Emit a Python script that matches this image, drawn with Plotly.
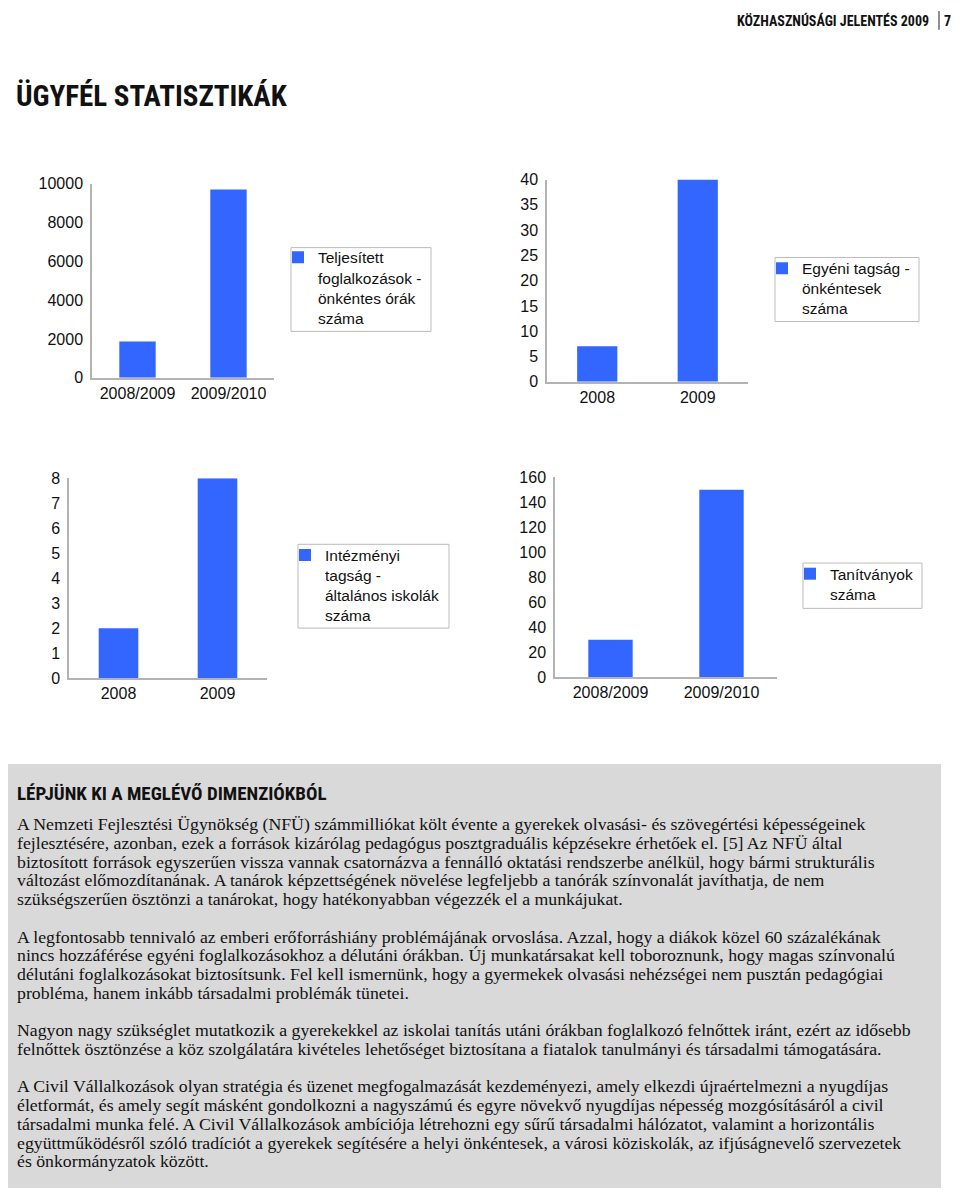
import plotly.graph_objects as go

W, H = 944, 1184
OFF = 8  # default page body margin
BLUE = "#3366ff"
AX = "#b3b3b3"

# ---- data ----
c1_cats = ["2008/2009", "2009/2010"]
c1_vals = [1870, 9700]
c1_name = "Teljesített<br>foglalkozások -<br>önkéntes órák<br>száma"

c2_cats = ["2008", "2009"]
c2_vals = [7, 40]
c2_name = "Egyéni tagság -<br>önkéntesek<br>száma"

c3_cats = ["2008", "2009"]
c3_vals = [2, 8]
c3_name = "Intézményi<br>tagság -<br>általános iskolák<br>száma"

c4_cats = ["2008/2009", "2009/2010"]
c4_vals = [30, 150]
c4_name = "Tanítványok<br>száma"

header = "KÖZHASZNÚSÁGI JELENTÉS 2009"
page_no = "7"
title = "ÜGYFÉL STATISZTIKÁK"
box_heading = "LÉPJÜNK KI A MEGLÉVŐ DIMENZIÓKBÓL"
paragraphs = [
    [
        "A Nemzeti Fejlesztési Ügynökség (NFÜ) számmilliókat költ évente a gyerekek olvasási- és szövegértési képességeinek",
        "fejlesztésére, azonban, ezek a források kizárólag pedagógus posztgraduális képzésekre érhetőek el. [5] Az NFÜ által",
        "biztosított források egyszerűen vissza vannak csatornázva a fennálló oktatási rendszerbe anélkül, hogy bármi strukturális",
        "változást előmozdítanának. A tanárok képzettségének növelése legfeljebb a tanórák színvonalát javíthatja, de nem",
        "szükségszerűen ösztönzi a tanárokat, hogy hatékonyabban végezzék el a munkájukat.",
    ],
    [
        "A legfontosabb tennivaló az emberi erőforráshiány problémájának orvoslása. Azzal, hogy a diákok közel 60 százalékának",
        "nincs hozzáférése egyéni foglalkozásokhoz a délutáni órákban. Új munkatársakat kell toboroznunk, hogy magas színvonalú",
        "délutáni foglalkozásokat biztosítsunk. Fel kell ismernünk, hogy a gyermekek olvasási nehézségei nem pusztán pedagógiai",
        "probléma, hanem inkább társadalmi problémák tünetei.",
    ],
    [
        "Nagyon nagy szükséglet mutatkozik a gyerekekkel az iskolai tanítás utáni órákban foglalkozó felnőttek iránt, ezért az idősebb",
        "felnőttek ösztönzése a köz szolgálatára kivételes lehetőséget biztosítana a fiatalok tanulmányi és társadalmi támogatására.",
    ],
    [
        "A Civil Vállalkozások olyan stratégia és üzenet megfogalmazását kezdeményezi, amely elkezdi újraértelmezni a nyugdíjas",
        "életformát, és amely segít másként gondolkozni a nagyszámú és egyre növekvő nyugdíjas népesség mozgósításáról a civil",
        "társadalmi munka felé. A Civil Vállalkozások ambíciója létrehozni egy sűrű társadalmi hálózatot, valamint a horizontális",
        "együttműködésről szóló tradíciót a gyerekek segítésére a helyi önkéntesek, a városi köziskolák, az ifjúságnevelő szervezetek",
        "és önkormányzatok között.",
    ],
]


def px(x):
    return (x - OFF) / W


def py(y):
    return 1 - (y - OFF) / H


charts = [
    # cats, vals, name, xdom(px), ydom(px), range, dtick, legend box (x0,y0,x1,y1), first text line y
    (c1_cats, c1_vals, c1_name, (92, 274), (178, 375), 10000, 2000, (291, 243, 431, 328), 257),
    (c2_cats, c2_vals, c2_name, (547, 748), (174, 379), 40, 5, (775, 253, 919, 318), 268),
    (c3_cats, c3_vals, c3_name, (69, 267), (477, 680), 8, 1, (298, 544, 449, 629), 559),
    (c4_cats, c4_vals, c4_name, (555, 777), (476, 679), 160, 20, (803, 563, 922, 609), 578),
]

NARROW = "Liberation Sans Narrow, Roboto Condensed, Roboto, sans-serif"
SANS = "Liberation Sans, Arial, sans-serif"
SERIF = "Liberation Serif, Times New Roman, serif"

fig = go.Figure()
layout = dict(
    width=W, height=H,
    margin=dict(l=0, r=0, t=0, b=0),
    paper_bgcolor="white", plot_bgcolor="white",
    bargap=0.6,
    font=dict(family=SANS, size=16, color="#111111"),
)
shapes = [
    dict(type="rect", xref="paper", yref="paper", x0=px(8), x1=px(941), y0=py(1197), y1=py(767),
         fillcolor="#d9d9d9", line=dict(width=0), layer="below"),
    dict(type="line", xref="paper", yref="paper", x0=px(939), x1=px(939), y0=py(3), y1=py(22),
         line=dict(color="#222222", width=1)),
]

for i, (cats, vals, name, xd, yd, top, dt, box, ty) in enumerate(charts):
    n = i + 1
    sfx = "" if n == 1 else str(n)
    fig.add_trace(go.Bar(
        x=cats, y=vals, name=name, marker=dict(color=BLUE, line=dict(width=0)),
        xaxis="x" + sfx, yaxis="y" + sfx, legend="legend" + sfx, showlegend=True,
    ))
    layout["xaxis" + sfx] = dict(
        domain=[px(xd[0]), px(xd[1])], anchor="y" + sfx, type="category",
        range=[-0.5, 1.5], showline=True, linecolor=AX, linewidth=1.5,
        ticks="", showgrid=False, zeroline=False,
        tickfont=dict(size=16, color="#111111"),
    )
    layout["yaxis" + sfx] = dict(
        domain=[py(yd[1]), py(yd[0])], anchor="x" + sfx,
        range=[0, top], dtick=dt, tick0=0, tickformat="d",
        showline=True, linecolor=AX, linewidth=1.5,
        ticks="", showgrid=False, zeroline=False, ticklabelstandoff=4,
        tickfont=dict(size=16, color="#111111"),
    )
    # legend frame drawn as a rectangle; legend itself without border
    shapes.append(dict(type="rect", xref="paper", yref="paper",
                       x0=px(box[0]), x1=px(box[2]), y0=py(box[3]), y1=py(box[1]),
                       fillcolor="white", line=dict(color="#bbbbbb", width=1), layer="below"))
    layout["legend" + sfx] = dict(
        x=px(box[0] - 13), y=py(ty - 21), xanchor="left", yanchor="top",
        xref="paper", yref="paper",
        borderwidth=0, bgcolor="rgba(0,0,0,0)",
        font=dict(size=15.5, color="#111111"), valign="top",
        itemwidth=30, tracegroupgap=0,
    )

fig.update_layout(**layout)
fig.update_layout(shapes=shapes)

ann = []
ann.append(dict(text="<b>" + header + "</b>", x=px(931), y=py(13), xref="paper", yref="paper",
                xanchor="right", yanchor="middle", showarrow=False,
                font=dict(family=NARROW, size=14, color="#111111")))
ann.append(dict(text="<b>" + page_no + "</b>", x=px(947), y=py(13), xref="paper", yref="paper",
                xanchor="center", yanchor="middle", showarrow=False,
                font=dict(family=NARROW, size=14, color="#111111")))
ann.append(dict(text="<b>" + title + "</b>", x=px(14), y=py(89), xref="paper", yref="paper",
                xanchor="left", yanchor="middle", showarrow=False,
                font=dict(family=NARROW, size=29, color="#111111")))
ann.append(dict(text="<b>" + box_heading + "</b>", x=px(15), y=py(797), xref="paper", yref="paper",
                xanchor="left", yanchor="middle", showarrow=False,
                font=dict(family=NARROW, size=19, color="#111111")))

row = 0
for para in paragraphs:
    for line in para:
        yy = 828 + 19 * row
        ann.append(dict(text=line, x=px(15), y=py(yy), xref="paper", yref="paper",
                        xanchor="left", yanchor="middle", showarrow=False,
                        font=dict(family=SERIF, size=17.75, color="#111111")))
        row += 1
    row += 1
fig.update_layout(annotations=ann)

fig.write_html("out.html")
